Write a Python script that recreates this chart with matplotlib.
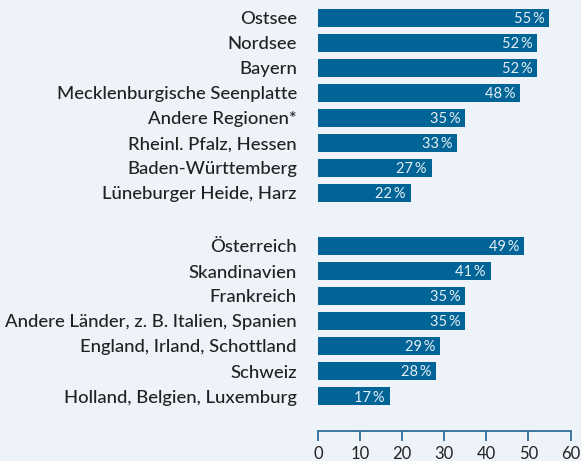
import matplotlib
matplotlib.use("Agg")
import matplotlib.pyplot as plt
import numpy as np

plt.rcParams['font.family'] = ['Lato', 'DejaVu Sans']

group1 = ["Ostsee", "Nordsee", "Bayern", "Mecklenburgische Seenplatte",
          "Andere Regionen*", "Rheinl. Pfalz, Hessen", "Baden-Württemberg",
          "Lüneburger Heide, Harz"]
values1 = [55, 52, 52, 48, 35, 33, 27, 22]
group2 = ["Österreich", "Skandinavien", "Frankreich",
          "Andere Länder, z. B. Italien, Spanien", "England, Irland, Schottland",
          "Schweiz", "Holland, Belgien, Luxemburg"]
values2 = [49, 41, 35, 35, 29, 28, 17]
xticks = [0, 10, 20, 30, 40, 50, 60]

BG = "#eef3fa"
BAR = "#006596"
AXC = "#2f6f9a"

W, H = 581, 461
fig = plt.figure(figsize=(W/100, H/100), dpi=100, facecolor=BG)
left = 318 / W
right = 570.5 / W
bottom = 1 - 431 / H
ax = fig.add_axes([left, bottom, right - left, 1 - bottom])
ax.set_facecolor(BG)

gap = 9.12
labels = group1 + group2
values = values1 + values2
ypos = list(np.arange(len(group1))) + list(np.arange(len(group2)) + gap)

ax.barh(ypos, values, height=0.72, color=BAR, edgecolor='none')
for y, v, lab in zip(ypos, values, labels):
    ax.text(v - 1.1, y, f"{v}\u2009%", ha='right', va='center_baseline',
            color="#e6eef6", fontsize=10.5)
    ax.text(-5.0, y, lab, ha='right', va='center_baseline', color="#222222",
            fontsize=13.3, fontweight='medium')

ax.set_xlim(0, 60)
ax.set_ylim(16.52, -0.72)
for s in ['top', 'right', 'left']:
    ax.spines[s].set_visible(False)
ax.spines['bottom'].set_color(AXC)
ax.spines['bottom'].set_linewidth(1.3)
ax.set_yticks([])
ax.set_xticks(xticks)
ax.tick_params(axis='x', direction='out', length=7.5, width=1.3, color=AXC,
               labelsize=12, labelcolor="#222222", pad=3)

fig.savefig("out.png", dpi=100, facecolor=BG)
